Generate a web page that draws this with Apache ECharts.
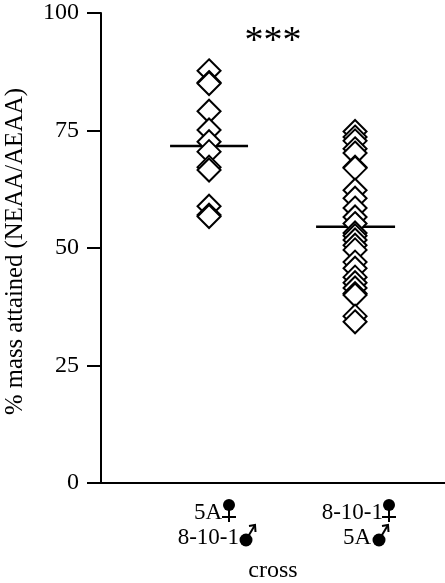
<!DOCTYPE html>
<html lang="en">
<head>
<meta charset="utf-8">
<title></title>
<script src="https://cdn.jsdelivr.net/npm/echarts@6/dist/echarts.min.js"></script>
<style>
html,body{margin:0;padding:0;background:#fff}
#main{width:445px;height:583px}
</style>
</head>
<body>
<div id="main"></div>
<script type="text/javascript">
var yTicks = [0, 25, 50, 75, 100]
var crossA = ['5A', '8-10-1']
var crossB = ['8-10-1', '5A']
var groupA = [87.7, 85.2, 85, 79.1, 75.1, 72.6, 70.5, 67.2, 66.6, 58.9, 57, 56.7]
var groupB = [74.8, 73.6, 72.8, 71.1, 70.2, 67.2, 67, 62.3, 60.6, 58.5, 56.6, 55.2, 53.2, 52.6,
              51.7, 50.6, 49.6, 47, 45.7, 43.8, 42.6, 41.5, 40.3, 40, 35.5, 34.3]
var means = [71.7, 54.5]
var lineEnds = [[0.733, 1.267], [1.733, 2.274]]
var serif = '"Liberation Serif","Times New Roman",serif'

var myChart = echarts.init(document.getElementById('main'))

function toPoints(x, list){
  return list.map(function(v){ return [x, v] })
}

// little filled sex symbols under the axis
function female(cx, cy){
  return [
    {type:'circle', shape:{cx:cx, cy:cy, r:6}, style:{fill:'#000'}},
    {type:'line', shape:{x1:cx, y1:cy, x2:cx, y2:cy+17}, style:{stroke:'#000', lineWidth:2}},
    {type:'line', shape:{x1:cx-7, y1:cy+12, x2:cx+7, y2:cy+12}, style:{stroke:'#000', lineWidth:2}}
  ]
}
function male(cx, cy){
  var tx = cx+9, ty = cy-15
  return [
    {type:'circle', shape:{cx:cx, cy:cy, r:6.5}, style:{fill:'#000'}},
    {type:'line', shape:{x1:cx, y1:cy, x2:tx, y2:ty}, style:{stroke:'#000', lineWidth:2}},
    {type:'polyline', shape:{points:[[tx-6,ty+1],[tx,ty],[tx+0.5,ty+7]]}, style:{stroke:'#000', fill:'none', lineWidth:2}}
  ]
}
function label(text, right, y){
  return {type:'text', x:right, y:y, style:{text:text, font:'23px '+serif, fill:'#000', align:'right', verticalAlign:'middle'}}
}

var option = {
  animation: false,
  backgroundColor: '#fff',
  grid: {left:101, right:0, top:13, bottom:100, outerBoundsMode:'none'},
  xAxis: {
    type:'value', min:0.26, max:2.616,
    splitLine:{show:false}, axisTick:{show:false}, axisLabel:{show:false},
    axisLine:{show:true, onZero:false, lineStyle:{color:'#000', width:2}},
    name:'cross', nameLocation:'middle', nameGap:76,
    nameTextStyle:{fontFamily:serif, fontSize:24, color:'#000'}
  },
  yAxis: {
    type:'value', min:0, max:100, interval:25,
    splitLine:{show:false},
    axisLine:{show:true, lineStyle:{color:'#000', width:2}},
    axisTick:{show:true, length:14, lineStyle:{color:'#000', width:2}},
    axisLabel:{fontFamily:serif, fontSize:24, color:'#000', margin:22},
    name:'% mass attained (NEAA/AEAA)', nameLocation:'middle', nameGap:73,
    nameTextStyle:{fontFamily:serif, fontSize:24.7, color:'#000', padding:[0,7,0,0]}
  },
  series: [
    {type:'line', data:[[lineEnds[0][0],means[0]],[lineEnds[0][1],means[0]]], symbol:'none', z:1,
     lineStyle:{color:'#000', width:2.5}},
    {type:'line', data:[[lineEnds[1][0],means[1]],[lineEnds[1][1],means[1]]], symbol:'none', z:1,
     lineStyle:{color:'#000', width:2.5}},
    {type:'scatter', data:toPoints(1, groupA), symbol:'diamond', symbolSize:23, z:2,
     itemStyle:{color:'#fff', borderColor:'#000', borderWidth:2, opacity:1}},
    {type:'scatter', data:toPoints(2, groupB), symbol:'diamond', symbolSize:23, z:2,
     itemStyle:{color:'#fff', borderColor:'#000', borderWidth:2, opacity:1}}
  ],
  graphic: [].concat(
    [{type:'text', x:273, y:42, style:{text:'***', font:'38px '+serif, fill:'#000', align:'center', verticalAlign:'middle'}}],
    [label(crossA[0], 222, 513), label(crossA[1], 239, 538), label(crossB[0], 383, 513), label(crossB[1], 371, 538)],
    female(229, 505), male(246, 540), female(389, 505), male(379, 540)
  )
}
myChart.setOption(option)
</script>
</body>
</html>
